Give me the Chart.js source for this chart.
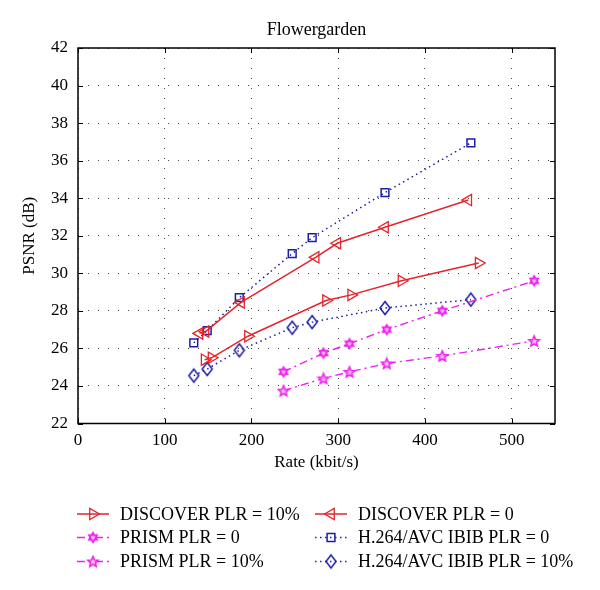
<!DOCTYPE html>
<html>
<head>
<meta charset="utf-8">
<script src="https://cdn.jsdelivr.net/npm/chart.js@4.4.0/dist/chart.umd.min.js"></script>
<style>
  html, body { margin: 0; padding: 0; background: #fff; }
</style>
</head>
<body>
<canvas id="graficoPsnr" width="600" height="590"></canvas>
<script>
// rate (kbit/s) and PSNR (dB) for each curve
const discover10Rate = [146, 154, 196, 286, 315, 373, 462];
const discover10Psnr = [25.4, 25.5, 26.65, 28.55, 28.85, 29.6, 30.55];

const discover0Rate = [140, 147, 188, 274, 299, 354, 450];
const discover0Psnr = [26.8, 26.9, 28.45, 30.85, 31.6, 32.45, 33.9];

const prism0Rate = [237, 283, 313, 356, 420, 526];
const prism0Psnr = [24.75, 25.75, 26.25, 27.0, 28.0, 29.6];

const prism10Rate = [237, 283, 313, 356, 420, 526];
const prism10Psnr = [23.75, 24.4, 24.75, 25.2, 25.6, 26.4];

const h264Plr0Rate = [133.5, 149, 186, 247, 270, 354, 453];
const h264Plr0Psnr = [26.3, 26.95, 28.7, 31.05, 31.9, 34.3, 36.95];

const h264Plr10Rate = [133.5, 149, 186, 247, 270, 354, 453];
const h264Plr10Psnr = [24.55, 24.9, 25.9, 27.1, 27.4, 28.15, 28.6];

const xTicks = [0, 100, 200, 300, 400, 500];
const yTicks = [22, 24, 26, 28, 30, 32, 34, 36, 38, 40, 42];

const RED = '#e3242b';
const MAGENTA = '#ee22ee';
const BLUE = '#1c1ca8';
const FONT = "'Liberation Serif', 'DejaVu Serif', serif";

function pares(xs, ys) {
  return xs.map((x, i) => ({ x: x, y: ys[i] }));
}

// small canvases used as marker shapes
function marcador(size, desenho) {
  const c = document.createElement('canvas');
  c.width = size;
  c.height = size;
  const g = c.getContext('2d');
  desenho(g, size / 2);
  return c;
}

const hexagrama = marcador(14, (g, m) => {
  g.strokeStyle = MAGENTA;
  g.fillStyle = 'rgba(250,190,250,0.6)';
  g.lineWidth = 1.6;
  const r = 4.8;
  [0, Math.PI].forEach(rot => {
    g.beginPath();
    for (let k = 0; k < 3; k++) {
      const a = rot - Math.PI / 2 + k * 2 * Math.PI / 3;
      const px = m + r * Math.cos(a), py = m + r * Math.sin(a);
      k === 0 ? g.moveTo(px, py) : g.lineTo(px, py);
    }
    g.closePath();
    g.fill();
    g.stroke();
  });
});

const estrela = marcador(14, (g, m) => {
  g.strokeStyle = MAGENTA;
  g.fillStyle = 'rgba(250,170,250,0.7)';
  g.lineWidth = 1.6;
  g.beginPath();
  for (let k = 0; k < 10; k++) {
    const r = k % 2 === 0 ? 5.5 : 2.5;
    const a = -Math.PI / 2 + k * Math.PI / 5;
    const px = m + r * Math.cos(a), py = m + 0.5 + r * Math.sin(a);
    k === 0 ? g.moveTo(px, py) : g.lineTo(px, py);
  }
  g.closePath();
  g.fill();
  g.stroke();
});

const losango = marcador(18, (g, m) => {
  g.strokeStyle = BLUE;
  g.lineWidth = 1.5;
  g.beginPath();
  g.moveTo(m, m - 6.5);
  g.lineTo(m + 5, m);
  g.lineTo(m, m + 6.5);
  g.lineTo(m - 5, m);
  g.closePath();
  g.stroke();
});

const datasets = [
  {
    label: 'DISCOVER PLR = 10%',
    data: pares(discover10Rate, discover10Psnr),
    borderColor: RED, borderWidth: 1.5,
    pointStyle: 'triangle', pointRotation: 90, pointRadius: 6.5,
    pointBorderColor: RED, pointBackgroundColor: 'rgba(0,0,0,0)', pointBorderWidth: 1.3
  },
  {
    label: 'DISCOVER PLR = 0',
    data: pares(discover0Rate, discover0Psnr),
    borderColor: RED, borderWidth: 1.5,
    pointStyle: 'triangle', pointRotation: -90, pointRadius: 6.5,
    pointBorderColor: RED, pointBackgroundColor: 'rgba(0,0,0,0)', pointBorderWidth: 1.3
  },
  {
    label: 'PRISM PLR = 0',
    data: pares(prism0Rate, prism0Psnr),
    borderColor: MAGENTA, borderWidth: 1.4, borderDash: [8, 4, 2, 4],
    pointStyle: hexagrama, pointRadius: 6
  },
  {
    label: 'H.264/AVC IBIB PLR = 0',
    data: pares(h264Plr0Rate, h264Plr0Psnr),
    borderColor: BLUE, borderWidth: 1.5, borderDash: [1.5, 3.5],
    pointStyle: 'rect', pointRadius: 5.5,
    pointBorderColor: BLUE, pointBackgroundColor: 'rgba(0,0,0,0)', pointBorderWidth: 1.5
  },
  {
    label: 'PRISM PLR = 10%',
    data: pares(prism10Rate, prism10Psnr),
    borderColor: MAGENTA, borderWidth: 1.4, borderDash: [8, 4, 2, 4],
    pointStyle: estrela, pointRadius: 6
  },
  {
    label: 'H.264/AVC IBIB PLR = 10%',
    data: pares(h264Plr10Rate, h264Plr10Psnr),
    borderColor: BLUE, borderWidth: 1.5, borderDash: [1.5, 3.5],
    pointStyle: losango, pointRadius: 7
  }
];

datasets.forEach(d => { d.fill = false; d.tension = 0; d.showLine = true; });

// box, inward ticks, title and the two-column legend
const moldura = {
  id: 'moldura',
  beforeDatasetsDraw(chart) {
    const { ctx, chartArea: a, scales } = chart;
    ctx.save();
    ctx.strokeStyle = '#000';
    ctx.lineWidth = 1.5;
    ctx.strokeRect(a.left, a.top, a.right - a.left, a.bottom - a.top);
    ctx.lineWidth = 1;
    ctx.beginPath();
    xTicks.forEach(v => {
      const px = Math.round(scales.x.getPixelForValue(v)) + 0.5;
      ctx.moveTo(px, a.bottom); ctx.lineTo(px, a.bottom - 5);
      ctx.moveTo(px, a.top); ctx.lineTo(px, a.top + 5);
    });
    yTicks.forEach(v => {
      const py = Math.round(scales.y.getPixelForValue(v)) + 0.5;
      ctx.moveTo(a.left, py); ctx.lineTo(a.left + 5, py);
      ctx.moveTo(a.right, py); ctx.lineTo(a.right - 5, py);
    });
    ctx.stroke();
    ctx.restore();
  },
  afterDraw(chart) {
    const { ctx, chartArea: a } = chart;
    ctx.save();
    ctx.fillStyle = '#000';
    ctx.font = '18px ' + FONT;
    ctx.textAlign = 'center';
    ctx.textBaseline = 'middle';
    ctx.fillText('Flowergarden', (a.left + a.right) / 2, 30);

    const colunas = [77, 315];
    const linhas = [514, 537.5, 561.5];
    chart.data.datasets.forEach((d, i) => {
      const x0 = colunas[i % 2], y = linhas[Math.floor(i / 2)];
      ctx.save();
      ctx.strokeStyle = d.borderColor;
      ctx.lineWidth = d.borderWidth;
      ctx.setLineDash(d.borderDash || []);
      ctx.beginPath();
      ctx.moveTo(x0, y); ctx.lineTo(x0 + 32, y);
      ctx.stroke();
      ctx.setLineDash([]);
      ctx.strokeStyle = d.pointBorderColor || d.borderColor;
      ctx.fillStyle = 'rgba(0,0,0,0)';
      ctx.lineWidth = d.pointBorderWidth || 1.3;
      Chart.helpers.drawPoint(ctx, {
        pointStyle: d.pointStyle, rotation: d.pointRotation || 0,
        radius: d.pointRadius, borderWidth: d.pointBorderWidth || 1.3
      }, x0 + 16, y);
      ctx.restore();
      ctx.textAlign = 'left';
      ctx.fillStyle = '#000';
      ctx.fillText(d.label, x0 + 43, y + 1);
    });
    ctx.restore();
  }
};

new Chart(document.getElementById('graficoPsnr').getContext('2d'), {
  type: 'line',
  data: { datasets: datasets },
  options: {
    responsive: false,
    animation: false,
    layout: { padding: { left: 0, right: 45, top: 48, bottom: 0 } },
    plugins: {
      legend: { display: false },
      tooltip: { enabled: false }
    },
    scales: {
      x: {
        type: 'linear', min: 0, max: 550,
        afterFit: s => { s.height = 166.5; },
        afterBuildTicks: s => { s.ticks = xTicks.map(v => ({ value: v })); },
        ticks: { color: '#000', padding: 7, font: { family: FONT, size: 17 } },
        grid: { color: '#444', lineWidth: 1, drawTicks: false },
        border: { display: false, dash: [1, 9] },
        title: {
          display: true, text: 'Rate (kbit/s)', color: '#000',
          font: { family: FONT, size: 17 }, padding: { top: 0, bottom: 117 }
        }
      },
      y: {
        type: 'linear', min: 22, max: 42,
        afterFit: s => { s.width = 78; },
        afterBuildTicks: s => { s.ticks = yTicks.map(v => ({ value: v })); },
        ticks: { color: '#000', padding: 10, font: { family: FONT, size: 17 } },
        grid: { color: '#444', lineWidth: 1, drawTicks: false },
        border: { display: false, dash: [1, 9] },
        title: {
          display: true, text: 'PSNR (dB)', color: '#000',
          font: { family: FONT, size: 17 }, padding: { top: 19, bottom: 0 }
        }
      }
    }
  },
  plugins: [moldura]
});
</script>
</body>
</html>
